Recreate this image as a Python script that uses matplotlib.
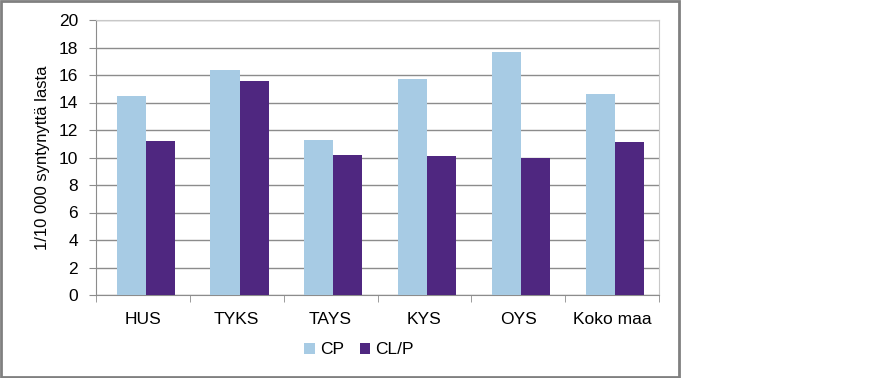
import matplotlib
matplotlib.use("Agg")
import matplotlib.pyplot as plt
import numpy as np
from matplotlib.patches import Rectangle

categories = ["HUS", "TYKS", "TAYS", "KYS", "OYS", "Koko maa"]
cp = [14.5, 16.4, 11.3, 15.7, 17.7, 14.6]
clp = [11.2, 15.6, 10.2, 10.1, 10.0, 11.15]
series_names = ["CP", "CL/P"]
yticks = [0, 2, 4, 6, 8, 10, 12, 14, 16, 18, 20]
ylabel = "1/10 000 syntynyttä lasta"

plt.rcParams['font.family'] = ['Liberation Sans', 'DejaVu Sans']

W, H = 888, 378
fig = plt.figure(figsize=(W / 100, H / 100), dpi=100)
fig.patch.set_facecolor("white")

# outer chart border
fig.patches.append(Rectangle((1 / W, 1 / H), 678 / W, (H - 2) / H, transform=fig.transFigure,
                             fill=False, edgecolor="#808080", linewidth=2))

left, right, top, bottom = 96, 659, 20, 295
ax = fig.add_axes([left / W, 1 - bottom / H, (right - left) / W, (bottom - top) / H])

x = np.arange(len(categories))
bw = 0.31
c_cp = "#a7cbe4"
c_clp = "#4f2780"
ax.bar(x - bw / 2 + 0.03, cp, bw, color=c_cp, label=series_names[0], zorder=3)
ax.bar(x + bw / 2 + 0.03, clp, bw, color=c_clp, label=series_names[1], zorder=3)

fs = 12.5
ax.set_xlim(-0.5, len(categories) - 0.5)
ax.set_ylim(0, 20)
ax.set_yticks(yticks)
ax.set_yticklabels([str(t) for t in yticks], fontsize=fs)
ax.yaxis.grid(True, color="#8c8c8c", linewidth=1, zorder=0)
ax.set_axisbelow(True)

ax.set_xticks(x)
ax.set_xticklabels(categories, fontsize=fs)
ax.tick_params(axis="x", length=0, pad=12)
ax.set_xticks(np.arange(-0.5, len(categories)), minor=True)
ax.tick_params(axis="x", which="minor", length=5, color="#8c8c8c", direction="out")
ax.tick_params(axis="y", length=5, color="#8c8c8c", direction="out", pad=8)

for s in ["top", "right"]:
    ax.spines[s].set_color("#c8c8c8")
for s in ["left", "bottom"]:
    ax.spines[s].set_color("#8c8c8c")

ax.set_ylabel(ylabel, fontsize=12, labelpad=6)

fig.legend(loc="center", bbox_to_anchor=(359 / W, 1 - 350 / H), ncol=2, frameon=False,
           fontsize=fs, handlelength=0.6, handleheight=0.6, handletextpad=0.3, columnspacing=0.9)

fig.savefig("out.png", dpi=100, facecolor="white")
